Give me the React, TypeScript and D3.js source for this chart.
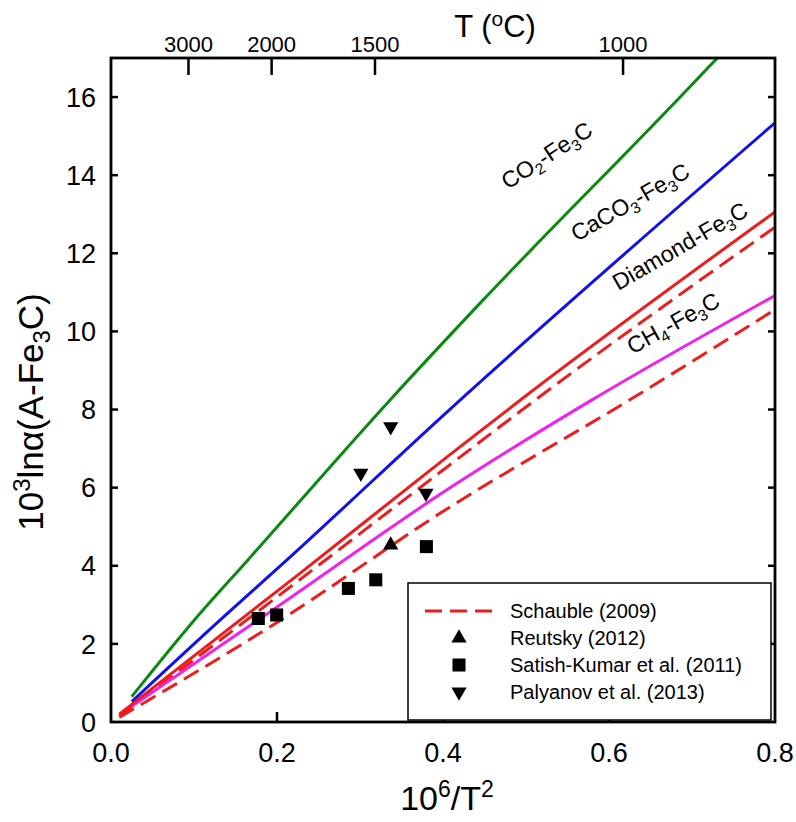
import React from 'react';
import * as d3 from 'd3';

// ---- data ----
const xTicks = [0, 0.2, 0.4, 0.6, 0.8];
const xTickLabels = ['0.0', '0.2', '0.4', '0.6', '0.8'];
const yTicks = [0, 2, 4, 6, 8, 10, 12, 14, 16];
const topTicksC = [3000, 2000, 1500, 1000];

const co2X = [0.025, 0.1, 0.165, 0.336, 0.445, 0.682, 0.735];
const co2Y = [0.65, 2.6, 4.15, 8.24, 10.73, 15.92, 17.1];
const caco3X = [0.025, 0.131, 0.212, 0.408, 0.8];
const caco3Y = [0.52, 2.6, 4.15, 8.0, 15.34];
const diamondX = [0.01, 0.228, 0.408, 0.496, 0.8];
const diamondY = [0.2, 3.81, 6.84, 8.29, 13.06];
const ch4X = [0.025, 0.195, 0.408, 0.579, 0.8];
const ch4Y = [0.4, 2.87, 5.99, 8.24, 10.92];
const schaubleUpX = [0.01, 0.2, 0.408, 0.514, 0.8];
const schaubleUpY = [0.15, 3.2, 6.58, 8.29, 12.67];
const schaubleLoX = [0.01, 0.2, 0.408, 0.629, 0.8];
const schaubleLoY = [0.12, 2.55, 5.5, 8.3, 10.56];

const reutskyX = [0.337];
const reutskyY = [4.53];
const satishX = [0.1775, 0.1996, 0.286, 0.319, 0.38];
const satishY = [2.65, 2.74, 3.42, 3.64, 4.49];
const palyanovX = [0.301, 0.337, 0.3795];
const palyanovY = [6.37, 7.56, 5.86];

const legendLabels = ['Schauble (2009)', 'Reutsky (2012)', 'Satish-Kumar et al. (2011)', 'Palyanov et al. (2013)'];

const FONT = '"Liberation Sans", Arial, Helvetica, sans-serif';

const zip = (xs: number[], ys: number[]) => xs.map((x, i) => [x, ys[i]] as [number, number]);

export default function App() {
  const left = 111, right = 775, top = 58, bottom = 722;
  const x = d3.scaleLinear().domain([0, 0.8]).range([left, right]);
  const y = d3.scaleLinear().domain([0, 17]).range([bottom, top]);
  const line = d3.line<[number, number]>().x(d => x(d[0])).y(d => y(d[1])).curve(d3.curveMonotoneX);
  const tToX = (c: number) => 1e6 / Math.pow(c + 273.15, 2);

  const series = [
    { d: zip(co2X, co2Y), color: '#0b8a12', dash: undefined },
    { d: zip(caco3X, caco3Y), color: '#1010f0', dash: undefined },
    { d: zip(schaubleUpX, schaubleUpY), color: '#ee1c1c', dash: '17,8' },
    { d: zip(schaubleLoX, schaubleLoY), color: '#ee1c1c', dash: '17,8' },
    { d: zip(ch4X, ch4Y), color: '#f020f0', dash: undefined },
    { d: zip(diamondX, diamondY), color: '#ee1c1c', dash: undefined },
  ];

  const tri = d3.symbol().type(d3.symbolTriangle).size(100)() as string;
  const sq = d3.symbol().type(d3.symbolSquare).size(170)() as string;

  const lx = 408, ly = 583, lw = 363, lh = 137;
  const legendRowY = (i: number) => 611 + i * 27;

  const labels = [
    { t: ['CO', '2', '-Fe', '3', 'C'], cx: 551, cy: 162, a: -33 },
    { t: ['CaCO', '3', '-Fe', '3', 'C'], cx: 634, cy: 209, a: -30 },
    { t: ['Diamond-Fe', '3', 'C'], cx: 684, cy: 253, a: -30 },
    { t: ['CH', '4', '-Fe', '3', 'C'], cx: 677, cy: 330, a: -29 },
  ];

  const subTspans = (parts: string[], fs: number) => {
    const out: React.ReactNode[] = [];
    parts.forEach((p, i) => {
      const sub = /^\d$/.test(p);
      out.push(
        <tspan key={i} fontSize={sub ? fs * 0.68 : fs} dy={sub ? fs * 0.22 : (i > 0 && /^\d$/.test(parts[i - 1]) ? -fs * 0.22 : 0)}>{p}</tspan>
      );
    });
    return out;
  };

  return (
    <svg width={796} height={822} style={{ position: 'absolute', left: 0, top: 0, background: '#fff' }} fontFamily={FONT}>
      <defs>
        <clipPath id="plotclip">
          <rect x={left} y={top} width={right - left} height={bottom - top} />
        </clipPath>
      </defs>
      <rect x={0} y={0} width={796} height={822} fill="#fff" />

      {/* lines */}
      <g clipPath="url(#plotclip)">
        {series.map((s, i) => (
          <path key={i} d={line(s.d) as string} fill="none" stroke={s.color} strokeWidth={3} strokeDasharray={s.dash} />
        ))}
      </g>

      {/* markers */}
      {zip(reutskyX, reutskyY).map((p, i) => (
        <path key={'r' + i} d={tri} transform={`translate(${x(p[0])},${y(p[1])})`} fill="#000" />
      ))}
      {zip(satishX, satishY).map((p, i) => (
        <path key={'s' + i} d={sq} transform={`translate(${x(p[0])},${y(p[1])})`} fill="#000" />
      ))}
      {zip(palyanovX, palyanovY).map((p, i) => (
        <path key={'p' + i} d={tri} transform={`translate(${x(p[0])},${y(p[1])}) rotate(180)`} fill="#000" />
      ))}

      {/* line labels */}
      {labels.map((l, i) => (
        <text key={i} transform={`translate(${l.cx},${l.cy}) rotate(${l.a})`} textAnchor="middle" dy="0.35em" fontSize={23} fill="#000">
          {subTspans(l.t, 23)}
        </text>
      ))}

      {/* frame */}
      <rect x={left} y={top} width={right - left} height={bottom - top} fill="none" stroke="#000" strokeWidth={2.8} />

      {/* bottom ticks */}
      {xTicks.map((t, i) => (
        <g key={'xb' + i}>
          {i > 0 && i < xTicks.length - 1 && <line x1={x(t)} x2={x(t)} y1={bottom} y2={bottom - 10} stroke="#000" strokeWidth={2.5} />}
          <text x={x(t)} y={762} textAnchor="middle" fontSize={27}>{xTickLabels[i]}</text>
        </g>
      ))}
      {/* left & right ticks */}
      {yTicks.map((t, i) => (
        <g key={'y' + i}>
          {i > 0 && <line x1={left} x2={left + 7} y1={y(t)} y2={y(t)} stroke="#000" strokeWidth={2.5} />}
          {i > 0 && <line x1={right} x2={right - 7} y1={y(t)} y2={y(t)} stroke="#000" strokeWidth={2.5} />}
          <text x={96} y={y(t)} dy="0.36em" textAnchor="end" fontSize={27}>{t}</text>
        </g>
      ))}
      {/* top ticks */}
      {topTicksC.map((c, i) => (
        <g key={'t' + i}>
          <line x1={x(tToX(c))} x2={x(tToX(c))} y1={top} y2={top + 17} stroke="#000" strokeWidth={2.5} />
          <text x={x(tToX(c))} y={52} textAnchor="middle" fontSize={22}>{c}</text>
        </g>
      ))}

      {/* axis titles */}
      <text x={495} y={37} textAnchor="middle" fontSize={31}>
        T (<tspan fontSize={21} dy={-11}>o</tspan><tspan dy={11}>C)</tspan>
      </text>
      <text x={447} y={810} textAnchor="middle" fontSize={34}>
        10<tspan fontSize={23} dy={-13}>6</tspan><tspan dy={13}>/T</tspan><tspan fontSize={23} dy={-13}>2</tspan>
      </text>
      <text transform={`translate(43,412) rotate(-90)`} textAnchor="middle" fontSize={35}>
        10<tspan fontSize={24} dy={-13}>3</tspan><tspan dy={13}>ln</tspan>α(A-Fe<tspan fontSize={24} dy={7}>3</tspan><tspan dy={-7}>C)</tspan>
      </text>

      {/* legend */}
      <rect x={lx} y={ly} width={lw} height={lh} fill="#fff" stroke="#000" strokeWidth={1.5} />
      <line x1={425} x2={492} y1={legendRowY(0)} y2={legendRowY(0)} stroke="#ee1c1c" strokeWidth={3} strokeDasharray="17,8" />
      <path d={tri} transform={`translate(459,${legendRowY(1)})`} fill="#000" />
      <path d={sq} transform={`translate(459,${legendRowY(2)})`} fill="#000" />
      <path d={tri} transform={`translate(459,${legendRowY(3)}) rotate(180)`} fill="#000" />
      {legendLabels.map((s, i) => (
        <text key={'l' + i} x={510} y={legendRowY(i)} dy="0.36em" fontSize={20}>{s}</text>
      ))}
    </svg>
  );
}
